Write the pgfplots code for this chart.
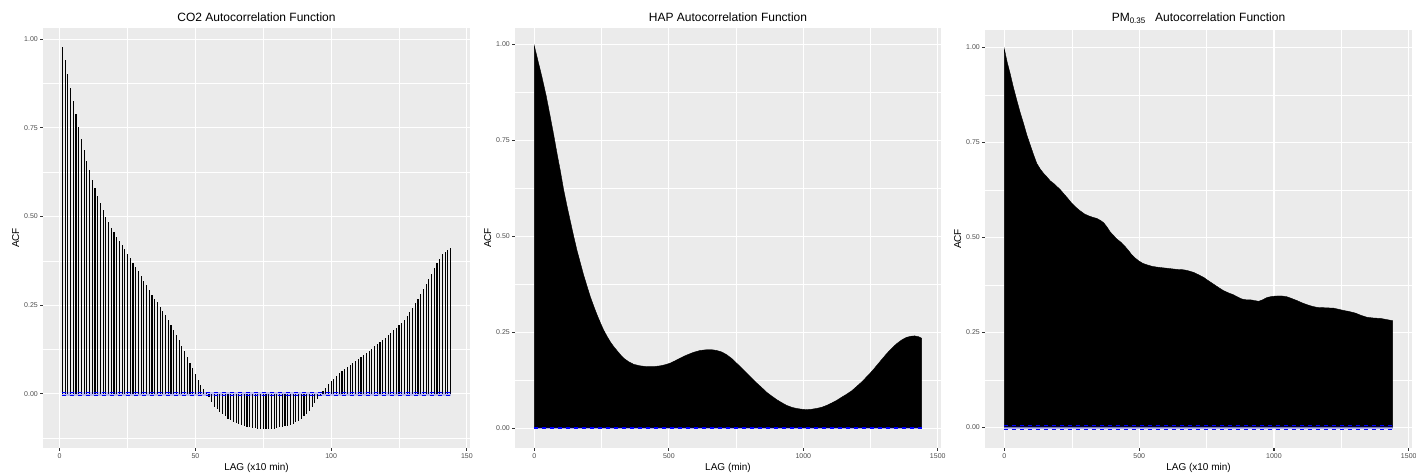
\documentclass[border=0pt]{standalone}
\usepackage{fontspec}
\setmainfont{Liberation Sans}
\usepackage{pgfplots}
\usepackage{pgfplotstable}
\pgfplotsset{compat=1.18}
\definecolor{panelbg}{HTML}{EBEBEB}
\definecolor{tickcol}{HTML}{333333}
\definecolor{labcol}{HTML}{4D4D4D}

\pgfplotstableread{
lag acf
1 0.979
2 0.942
3 0.902
4 0.864
5 0.827
6 0.790
7 0.753
8 0.719
9 0.687
10 0.657
11 0.630
12 0.604
13 0.580
14 0.557
15 0.538
16 0.519
17 0.500
18 0.484
19 0.469
20 0.456
21 0.443
22 0.431
23 0.420
24 0.408
25 0.395
26 0.383
27 0.370
28 0.358
29 0.346
30 0.332
31 0.319
32 0.306
33 0.293
34 0.280
35 0.268
36 0.258
37 0.246
38 0.234
39 0.222
40 0.209
41 0.195
42 0.181
43 0.166
44 0.151
45 0.135
46 0.120
47 0.104
48 0.087
49 0.072
50 0.056
51 0.040
52 0.026
53 0.013
54 0.003
55 -0.008
56 -0.022
57 -0.036
58 -0.043
59 -0.051
60 -0.058
61 -0.064
62 -0.070
63 -0.075
64 -0.079
65 -0.083
66 -0.086
67 -0.089
68 -0.091
69 -0.093
70 -0.095
71 -0.096
72 -0.097
73 -0.098
74 -0.099
75 -0.099
76 -0.099
77 -0.099
78 -0.098
79 -0.098
80 -0.097
81 -0.095
82 -0.093
83 -0.092
84 -0.090
85 -0.087
86 -0.084
87 -0.080
88 -0.076
89 -0.071
90 -0.064
91 -0.057
92 -0.048
93 -0.037
94 -0.026
95 -0.014
96 -0.004
97 0.007
98 0.016
99 0.027
100 0.035
101 0.042
102 0.050
103 0.058
104 0.065
105 0.071
106 0.076
107 0.082
108 0.087
109 0.092
110 0.097
111 0.103
112 0.108
113 0.114
114 0.120
115 0.127
116 0.134
117 0.140
118 0.146
119 0.153
120 0.158
121 0.165
122 0.171
123 0.179
124 0.185
125 0.193
126 0.201
127 0.209
128 0.219
129 0.231
130 0.242
131 0.255
132 0.268
133 0.282
134 0.296
135 0.310
136 0.324
137 0.339
138 0.354
139 0.368
140 0.381
141 0.393
142 0.401
143 0.407
144 0.411
}\coacf

\pgfplotstableread{
lag acf
0 0
0 0.995
14 0.955
28 0.915
44 0.865
59 0.811
72 0.763
84 0.716
97 0.668
109 0.620
122 0.576
134 0.538
146 0.500
158 0.464
171 0.430
183 0.399
196 0.369
208 0.342
221 0.317
233 0.295
245 0.275
257 0.256
270 0.239
282 0.225
295 0.212
307 0.202
320 0.191
332 0.182
350 0.173
369 0.166
393 0.162
418 0.160
443 0.160
468 0.162
487 0.165
505 0.169
523 0.175
542 0.182
566 0.190
591 0.197
616 0.202
641 0.204
660 0.204
678 0.202
697 0.198
715 0.191
734 0.181
752 0.169
771 0.156
790 0.143
808 0.130
827 0.117
846 0.105
864 0.093
883 0.083
901 0.074
920 0.066
938 0.059
957 0.054
975 0.051
994 0.049
1012 0.048
1031 0.049
1049 0.051
1068 0.054
1087 0.059
1105 0.065
1124 0.072
1142 0.080
1161 0.088
1180 0.097
1198 0.108
1217 0.120
1235 0.133
1254 0.147
1272 0.162
1291 0.178
1309 0.193
1328 0.207
1346 0.219
1365 0.229
1383 0.236
1400 0.239
1414 0.240
1428 0.238
1440 0.234
1440 0
}\hapacf

\pgfplotstableread{
lag acf
0 0
0 0.995
10 0.962
21 0.932
33 0.896
46 0.861
58 0.830
71 0.800
83 0.770
96 0.743
108 0.718
120 0.695
133 0.680
145 0.669
158 0.659
170 0.649
183 0.642
195 0.634
207 0.626
219 0.616
235 0.603
250 0.590
266 0.579
281 0.570
297 0.562
312 0.557
328 0.553
343 0.550
356 0.545
368 0.539
380 0.528
392 0.515
405 0.505
417 0.496
433 0.487
448 0.476
461 0.465
473 0.454
485 0.446
497 0.439
513 0.432
529 0.428
548 0.424
566 0.422
590 0.420
615 0.418
640 0.416
665 0.415
684 0.412
702 0.408
720 0.402
739 0.395
757 0.386
776 0.377
795 0.368
813 0.360
832 0.354
850 0.349
866 0.343
881 0.338
897 0.336
912 0.336
928 0.334
943 0.332
958 0.336
974 0.342
993 0.345
1011 0.346
1030 0.346
1048 0.344
1067 0.339
1085 0.334
1104 0.328
1123 0.323
1141 0.319
1160 0.316
1190 0.315
1221 0.314
1240 0.311
1258 0.308
1280 0.305
1302 0.301
1323 0.295
1345 0.290
1370 0.288
1395 0.287
1418 0.284
1440 0.281
1440 0
}\pmacf

\pgfplotsset{gg/.style={
  scale only axis, width=427pt, height=420pt, anchor=south west,
  axis background/.style={fill=panelbg},
  axis line style={draw=none},
  grid=both,
  major grid style={white, line width=1.07pt},
  minor grid style={white, line width=0.53pt},
  tick pos=left,
  tick align=outside,
  major tick length=2.75pt,
  minor tick length=0pt,
  tick style={tickcol, line width=1.07pt},
  ytick={0,0.25,0.5,0.75,1},
  yticklabels={0.00,0.25,0.50,0.75,1.00},
  ticklabel style={font=\fontsize{7}{8}\selectfont, text=labcol},
  /pgf/number format/assume math mode=true,
  yticklabel style={inner sep=0pt, xshift=-2.2pt},
  xticklabel style={inner sep=0pt, yshift=-2.6pt},
  label style={font=\fontsize{10}{12}\selectfont},
  every axis title shift=0pt,
  title style={font=\fontsize{12}{14}\selectfont, at={(axis description cs:0.5,1)}, anchor=base, yshift=6.3pt},
  xlabel style={at={(axis description cs:0.5,0)}, anchor=base, yshift=-22pt},
  ylabel style={at={(axis description cs:-0.056,0.5)}, anchor=base},
  ylabel={ACF},
}}

\begin{document}
\begin{tikzpicture}
\useasboundingbox (0,0) rectangle (1416pt,474pt);

% Panel 1: CO2
\begin{axis}[gg, at={(43pt,26pt)},
  xmin=-6.15, xmax=151.15, ymin=-0.153, ymax=1.032,
  xtick={0,50,100,150}, xticklabels={0,50,100,150},
  minor xtick={25,75,125},
  minor ytick={-0.125,0.125,0.375,0.625,0.875},
  title={CO2 Autocorrelation Function},
  xlabel={LAG (x10 min)}]
\addplot[ycomb, black, line width=1.05pt, mark=none] table[x=lag,y=acf]{\coacf};
\addplot[draw=none, fill=blue, fill opacity=0.22] coordinates {(1,-0.005) (144,-0.005) (144,0.005) (1,0.005)};
\addplot[blue, line width=1pt, dash pattern=on 4pt off 4pt, mark=none] coordinates {(1,0.005) (144,0.005)};
\addplot[blue, line width=1pt, dash pattern=on 4pt off 4pt, mark=none] coordinates {(1,-0.005) (144,-0.005)};
\end{axis}

% Panel 2: HAP
\begin{axis}[gg, at={(515pt,26pt)}, width=426pt,
  xmin=-72, xmax=1512, ymin=-0.052, ymax=1.042,
  xtick={0,500,1000,1500}, xticklabels={0,500,1000,1500},
  minor xtick={250,750,1250},
  minor ytick={0.125,0.375,0.625,0.875},
  title={HAP Autocorrelation Function},
  xlabel={LAG (min)}]
\addplot[fill=black, draw=black, line width=0.4pt, mark=none] table[x=lag,y=acf]{\hapacf};
\addplot[draw=none, fill=blue, fill opacity=0.22] coordinates {(0,-0.002) (1440,-0.002) (1440,0.002) (0,0.002)};
\addplot[blue, line width=1pt, dash pattern=on 4pt off 4pt, mark=none] coordinates {(0,0.002) (1440,0.002)};
\addplot[blue, line width=1pt, dash pattern=on 4pt off 4pt, mark=none] coordinates {(0,-0.002) (1440,-0.002)};
\end{axis}

% Panel 3: PM0.35
\begin{axis}[gg, at={(985pt,26pt)}, height=418pt,
  xmin=-72, xmax=1512, ymin=-0.054, ymax=1.046,
  xtick={0,500,1000,1500}, xticklabels={0,500,1000,1500},
  minor xtick={250,750,1250},
  minor ytick={0.125,0.375,0.625,0.875},
  title={PM\textsubscript{0.35}\hspace{6pt} Autocorrelation Function},
  title style={yshift=2pt},
  xlabel={LAG (x10 min)}]
\addplot[fill=black, draw=black, line width=0.4pt, mark=none] table[x=lag,y=acf]{\pmacf};
\addplot[draw=none, fill=blue, fill opacity=0.22] coordinates {(0,-0.004) (1440,-0.004) (1440,0.004) (0,0.004)};
\addplot[blue, line width=1pt, dash pattern=on 4pt off 4pt, mark=none] coordinates {(0,0.004) (1440,0.004)};
\addplot[blue, line width=1pt, dash pattern=on 4pt off 4pt, mark=none] coordinates {(0,-0.004) (1440,-0.004)};
\end{axis}
\end{tikzpicture}
\end{document}
